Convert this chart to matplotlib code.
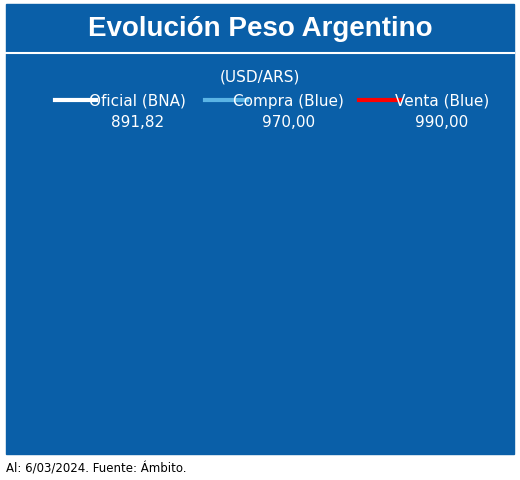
import matplotlib
matplotlib.use("Agg")
import matplotlib.pyplot as plt
from matplotlib.patches import Rectangle
import numpy as np

months = list("EFMAMJJASOND") * 5 + ["E", "F", "M"]
years = ["2019", "2020", "2021", "2022", "2023", "´24"]
oficial = [38,39,40,43,45,43,43,55,57,59,60,60,
           61,62,64,66,68,70,72,74,76,78,80,83,
           87,89,91,93,94,95,97,98,99,100,101,103,
           105,108,111,115,119,124,129,136,144,153,163,175,
           186,197,209,221,235,252,274,350,350,350,355,808,
           835,858,875,891.82]
compra = [37,38,40,43,44,43,42,58,60,65,62,68,
          75,78,82,100,125,120,125,135,145,165,150,145,
          155,148,140,145,148,160,175,178,180,190,195,200,
          205,210,200,205,210,225,300,285,285,290,305,330,
          370,375,385,470,480,480,520,700,720,880,950,900,
          960,975,965,970]
venta = [c + (20 if i > 12 else 2) for i, c in enumerate(compra)]
venta[-1] = 990
yticks = [35, 268, 501, 734, 967, 1200]

BG = "#0a5fa8"
fig = plt.figure(figsize=(5.2, 4.81), dpi=100)
fig.patches.append(Rectangle((0.012, 0.055), 0.976, 0.935, transform=fig.transFigure, color=BG, zorder=0))
fig.add_artist(plt.Line2D([0.012, 0.988], [0.888, 0.888], color="white", lw=1.5))
fig.text(0.5, 0.94, "Evolución Peso Argentino", ha="center", va="center", color="white",
         fontsize=20, fontweight="bold", family="Liberation Sans")
fig.text(0.5, 0.84, "(USD/ARS)", ha="center", va="center", color="white", fontsize=11)
leg = [(0.235, "white", "Oficial (BNA)", "891,82"), (0.525, "#5ab4e5", "Compra (Blue)", "970,00"),
       (0.82, "red", "Venta (Blue)", "990,00")]
for x, c, lab, val in leg:
    fig.add_artist(plt.Line2D([x - 0.13, x - 0.05], [0.79, 0.79], color=c, lw=3))
    fig.text(x + 0.03, 0.79, lab, ha="center", va="center", color="white", fontsize=11)
    fig.text(x + 0.03, 0.745, val, ha="center", va="center", color="white", fontsize=11)
fig.text(0.012, 0.025, "Al: 6/03/2024. Fuente: Ámbito.", fontsize=8.5, va="center")

ax = fig.add_axes([0.1, 0.152, 0.867, 0.522])
ax.set_facecolor(BG)
x = np.arange(len(compra))
ax.plot(x, venta, color="red", lw=2, zorder=3)
ax.plot(x, compra, color="#5ab4e5", lw=2, zorder=4)
ax.plot(x, oficial, color="white", lw=1.8, zorder=5)
ax.set_xlim(0, 63.3)
ax.set_ylim(35, 1200)
ax.set_yticks(yticks)
ax.set_yticklabels([str(v) for v in yticks], color="white", fontsize=11)
for v in yticks[1:]:
    ax.axhline(v, color="white", lw=1.2, zorder=1)
ax.set_xticks(np.arange(len(months)) + 0.3)
ax.set_xticklabels(months, color="white", fontsize=7, fontweight="bold")
ax.tick_params(length=0, pad=3)
for s in ["top", "right"]:
    ax.spines[s].set_visible(False)
for s in ["left", "bottom"]:
    ax.spines[s].set_color("white")
    ax.spines[s].set_linewidth(1.5)
for i, y in enumerate(years):
    a = i * 12 - 0.2
    b = min(a + 12, 63.3)
    ax.plot([a + 0.3, b - 0.3], [-0.07, -0.07], transform=ax.get_xaxis_transform(), color="white",
            lw=1, clip_on=False)
    ax.text((a + b) / 2, -0.14, y, transform=ax.get_xaxis_transform(), ha="center", va="center",
            color="white", fontsize=11)
fig.savefig("out.png", dpi=100, facecolor="white")
